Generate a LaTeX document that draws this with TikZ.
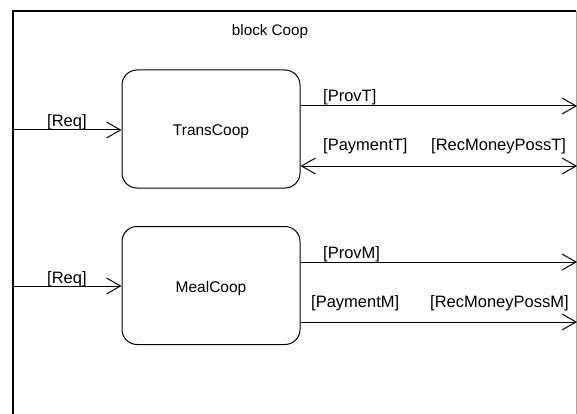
\documentclass[tikz,border=0pt]{standalone}
\usepackage{fontspec}
\setmainfont{Liberation Sans}
\usetikzlibrary{arrows.meta}
\begin{document}
\begin{tikzpicture}[x=1pt,y=-1pt,
  blockbox/.style={draw=black,line width=1pt,rounded corners=15pt,minimum width=178pt,minimum height=118pt,font=\fontsize{15.5}{19}\selectfont},
  lbl/.style={font=\fontsize{16.5}{19}\selectfont,inner sep=0pt,anchor=base west},
  flow/.style={line width=1pt,-{Straight Barb[length=14pt,width=16pt,line width=1pt]}},
  bflow/.style={line width=1pt,{Straight Barb[length=14pt,width=16pt,line width=1pt]}-{Straight Barb[length=14pt,width=16pt,line width=1pt]}}]
\useasboundingbox (0,0) rectangle (577,414);
\fill[white] (0,0) rectangle (577,414);
\draw[line width=1.1pt] (13,414) -- (13,11) -- (576,11);
\draw[line width=1pt,black!35] (576,11) -- (576,414);
\node[lbl,anchor=base,font=\fontsize{15.2}{19}\selectfont] (title) at (270,36) {block Coop};
% TransCoop
\node[blockbox] (t) at (211,129) {\raisebox{-3pt}[\height][\depth]{TransCoop}};
\coordinate (tin) at (13,130);
\coordinate (tprov) at (577,106);
\coordinate (tpay) at (577,166);
\draw[flow] (tin) -- (t.west |- tin);
\node[lbl] (req1) at (47,127) {[Req]};
\draw[flow] (t.east |- tprov) -- (tprov);
\node[lbl] (provt) at (323,102) {[ProvT]};
\draw[bflow] (t.east |- tpay) -- (tpay);
\node[lbl] (payt) at (323,150) {[PaymentT]};
\node[lbl] (rect) at (431,150) {[RecMoneyPossT]};
% MealCoop
\node[blockbox] (m) at (211,285.5) {\raisebox{-3pt}[\height][\depth]{MealCoop}};
\coordinate (min) at (13,286);
\coordinate (mprov) at (577,262);
\coordinate (mpay) at (577,322);
\draw[flow] (min) -- (m.west |- min);
\node[lbl] (req2) at (47,283) {[Req]};
\draw[flow] (m.east |- mprov) -- (mprov);
\node[lbl] (provm) at (323,258) {[ProvM]};
\draw[flow] (m.east |- mpay) -- (mpay);
\node[lbl] (paym) at (311,307) {[PaymentM]};
\node[lbl] (recm) at (430,307) {[RecMoneyPossM]};
\end{tikzpicture}
\end{document}
